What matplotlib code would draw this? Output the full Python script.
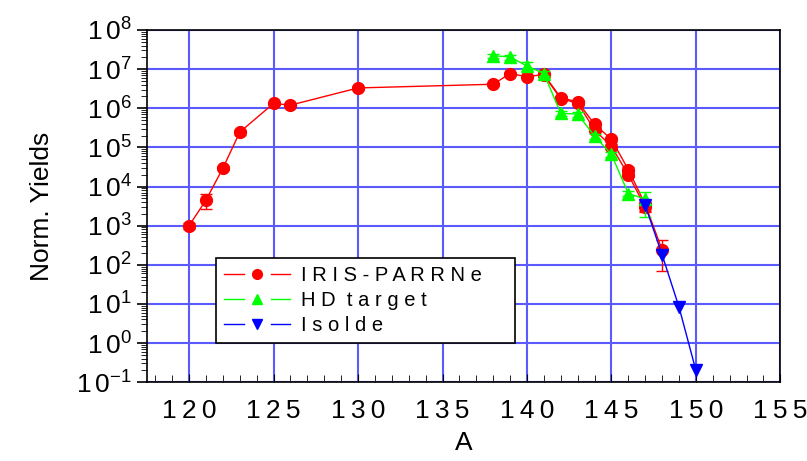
import matplotlib
matplotlib.use('Agg')
import matplotlib.pyplot as plt
from matplotlib.ticker import FixedLocator, MultipleLocator, LogLocator, NullFormatter
from matplotlib.legend_handler import HandlerBase
from matplotlib.lines import Line2D
import numpy as np

plt.rcParams['font.family'] = ['Liberation Sans', 'DejaVu Sans']
plt.rcParams['mathtext.fontset'] = 'custom'
plt.rcParams['mathtext.rm'] = 'Liberation Sans'

# IRIS-PARRNe (red circles), main chain
red_x = [120, 121, 122, 123, 125, 126, 130, 138, 139, 140, 141, 142, 143, 144, 145, 146, 147, 148]
red_y = [1.0e3, 4.5e3, 2.95e4, 2.45e5, 1.33e6, 1.2e6, 3.3e6, 4.1e6, 7.7e6, 6.4e6, 7.3e6,
         1.85e6, 1.45e6, 3.9e5, 1.6e5, 2.7e4, 3.5e3, 2.4e2]
red_lo = [200, 1900, 3000, 4e4, 1.5e5, 1e5, 3e5, 4e5, 6e5, 6e5, 6e5, 2e5, 1.5e5, 5e4, 2e4, 4e3, 1.3e3, 170]
red_hi = [150, 2100, 3000, 4e4, 1.5e5, 1e5, 3e5, 4e5, 6e5, 6e5, 6e5, 2e5, 1.5e5, 5e4, 2e4, 4e3, 500, 190]

# IRIS-PARRNe, second measurement
red2_x = [141, 142, 143, 144, 145, 146, 147]
red2_y = [7.0e6, 1.75e6, 1.35e6, 2.8e5, 1.05e5, 2.0e4, 3.0e3]
red2_err = [5e5, 2e5, 1.5e5, 4e4, 1.5e4, 3e3, 600]

# HD target (green triangles)
hd_x = [138, 139, 140, 141, 142, 143, 144, 145, 146, 147]
hd_y = [2.2e7, 2.05e7, 1.2e7, 7.7e6, 7.4e5, 7.1e5, 1.95e5, 6.6e4, 6.6e3, 4.8e3]
hd_lo = [3e6, 3e6, 2e6, 1e6, 1e5, 1e5, 3e4, 1e4, 1e3, 3.1e3]
hd_hi = [3e6, 3e6, 3e6, 1e6, 1e5, 1e5, 3e4, 1e4, 1e3, 2.4e3]

# Isolde (blue down triangles)
iso_x = [147, 148, 149, 150]
iso_y = [3.3e3, 1.8e2, 8.3, 0.2]

xticks = [120, 125, 130, 135, 140, 145, 150, 155]
yexps = [-1, 0, 1, 2, 3, 4, 5, 6, 7, 8]
labels = ['I R I S - P A R R N e', 'H D  t a r g e t', 'I s o l d e']


class GapHandler(HandlerBase):
    # line - marker - line, with gaps, like the original legend
    def create_artists(self, legend, orig, xd, yd, w, h, fontsize, trans):
        y = yd + h / 2
        c = orig.get_color()
        g = w * 0.2
        a = Line2D([xd, xd + w / 2 - g], [y, y], color=c, lw=1)
        b = Line2D([xd + w / 2 + g, xd + w], [y, y], color=c, lw=1)
        m = Line2D([xd + w / 2], [y], color=c, marker=orig.get_marker(), ms=7, ls='none')
        for art in (a, b, m):
            art.set_transform(trans)
        return [a, b, m]


fig = plt.figure(figsize=(8.07, 4.61), dpi=100)
ax = fig.add_axes([0.182, 0.171, 0.785, 0.764])

ax.errorbar(red_x, red_y, yerr=[red_lo, red_hi], color='#ff0000', marker='o', ms=8.5,
            lw=1, capsize=4, elinewidth=1, zorder=3)
ax.errorbar(red2_x, red2_y, yerr=red2_err, color='#ff0000', marker='o', ms=8.5,
            lw=1, capsize=4, elinewidth=1, zorder=3)
ax.errorbar(hd_x, hd_y, yerr=[hd_lo, hd_hi], color='#00ff00', marker='^', ms=8.5,
            lw=1, capsize=4, elinewidth=1, zorder=4)
ax.plot(iso_x, iso_y, color='#0000ff', marker='v', ms=8.5, lw=1, zorder=5)

ax.set_yscale('log')
ax.set_xlim(117.5, 155)
ax.set_ylim(0.1, 1e8)

ax.xaxis.set_major_locator(FixedLocator(xticks))
ax.set_xticklabels(['\u2009'.join(str(t)) for t in xticks])
ax.xaxis.set_minor_locator(MultipleLocator(1))
ax.yaxis.set_major_locator(FixedLocator([10.0 ** e for e in yexps]))
ax.set_yticklabels([r'$\mathregular{1\,0^{%d}}$' % e for e in yexps])
ax.yaxis.set_minor_locator(LogLocator(base=10, subs=np.arange(2, 10), numticks=20))
ax.yaxis.set_minor_formatter(NullFormatter())

ax.tick_params(axis='x', which='both', direction='in', top=False, labelsize=19, pad=12)
ax.tick_params(axis='x', which='major', length=6)
ax.tick_params(axis='x', which='minor', length=5)
ax.tick_params(axis='y', which='both', direction='out', right=False, labelsize=19)
ax.tick_params(axis='y', which='major', length=7, width=1.2)
ax.tick_params(axis='y', which='minor', length=4)

ax.grid(True, which='major', color='#5a5aff', lw=1.5)
ax.set_axisbelow(True)
for s in ax.spines.values():
    s.set_linewidth(1.2)

ax.set_xlabel('A', fontsize=19, labelpad=6)
ax.set_ylabel('Norm. Yields', fontsize=19, labelpad=16)

hands = [Line2D([], [], color='#ff0000', marker='o'),
         Line2D([], [], color='#00ff00', marker='^'),
         Line2D([], [], color='#0000ff', marker='v')]
leg = ax.legend(hands, labels, loc='lower left', bbox_to_anchor=(0.109, 0.111, 0.472, 0.253),
                mode='expand', fontsize=14.5, frameon=True, fancybox=False, edgecolor='black',
                framealpha=1, handlelength=3.3, handletextpad=0.5, borderaxespad=0,
                labelspacing=0.3, borderpad=0.4, handler_map={Line2D: GapHandler()})
leg.get_frame().set_linewidth(1.2)

fig.savefig('out.png', dpi=100)
